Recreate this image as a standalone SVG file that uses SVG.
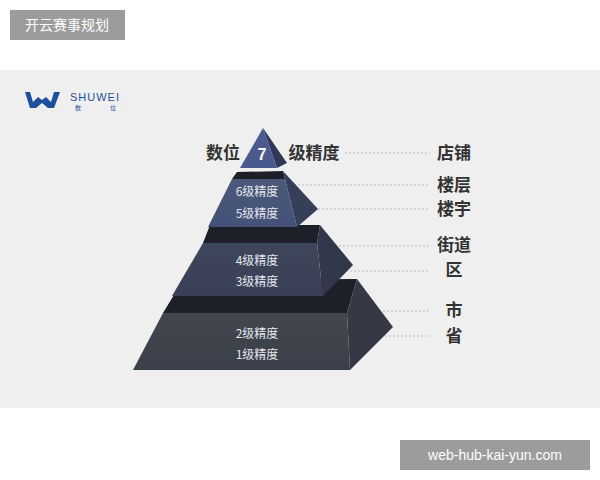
<svg xmlns="http://www.w3.org/2000/svg" width="600" height="480" viewBox="0 0 600 480">
<style>
.lv{font-family:"Noto Sans CJK SC","Liberation Sans",sans-serif;font-size:12px;fill:#e4e6ec;text-anchor:middle}
.rl{font-family:"Noto Sans CJK SC",sans-serif;font-size:17px;font-weight:bold;fill:#333;text-anchor:middle}
.dl{stroke:#bbb;stroke-width:1;stroke-dasharray:2 2;fill:none}
.top{fill:#1e2029}
</style>
<defs>
<linearGradient id="g2" x1="0" y1="0" x2="0" y2="1"><stop offset="0" stop-color="#4a5878"/><stop offset="1" stop-color="#44527a"/></linearGradient>
<linearGradient id="g3" x1="0" y1="0" x2="0" y2="1"><stop offset="0" stop-color="#3e465c"/><stop offset="1" stop-color="#3a4156"/></linearGradient>
<linearGradient id="g4" x1="0" y1="0" x2="0" y2="1"><stop offset="0" stop-color="#41464f"/><stop offset="1" stop-color="#3b3f49"/></linearGradient>
</defs>
<rect width="600" height="480" fill="#fff"/>
<rect x="0" y="70" width="600" height="338" fill="#efefef"/>
<g id="header"><rect x="10" y="10" width="115" height="30" fill="#9c9c9c"/><text x="67" y="30" font-family="Noto Sans CJK SC,sans-serif" font-size="14" fill="#fff" text-anchor="middle">开云赛事规划</text></g>
<g id="footer"><rect x="400" y="440" width="190" height="30" fill="#9c9c9c"/><text x="495" y="460" font-family="Liberation Sans,sans-serif" font-size="14" fill="#fff" text-anchor="middle">web-hub-kai-yun.com</text></g>
<g id="logo">
<path d="M25 92 L30 92 L33 102 L38 97 L42 100 L46 97 L51 102 L54 92 L60 92 L54 108 L48 108 L42 103 L36 108 L30 108 Z" fill="#1d4f9e"/>
<text x="70" y="101" font-family="Liberation Sans,sans-serif" font-size="11" fill="#1d4f9e" letter-spacing="1">SHUWEI</text>
<text x="75" y="110" font-family="Noto Sans CJK SC,sans-serif" font-size="6" fill="#1d4f9e">数</text>
<text x="110" y="110" font-family="Noto Sans CJK SC,sans-serif" font-size="6" fill="#1d4f9e">位</text>
</g>
<g id="connectors">
<path class="dl" d="M345 153H430M294 185H430M306 209H430M331 246H430M338 271H430M351 311H430M373 336H430"/>
</g>
<g id="tier4">
<polygon class="top" points="183,280 357,279 347,313 163,313"/>
<polygon fill="#353945" points="357,279 393,327 350,370 347,313"/>
<polygon fill="url(#g4)" points="163,313 347,313 350,370 133,370"/>
<text class="lv" x="257" y="338">2级精度</text><text class="lv" x="257" y="359">1级精度</text>
</g>
<g id="tier3">
<polygon class="top" points="210,225 320,225 317,243 203,243"/>
<polygon fill="#323849" points="320,225 353,265 323,296 317,243"/>
<polygon fill="url(#g3)" points="203,243 317,243 323,296 172,296"/>
<text class="lv" x="257" y="265">4级精度</text><text class="lv" x="257" y="286">3级精度</text>
</g>
<g id="tier2">
<polygon class="top" points="237,172 283,171 285,179 232,179"/>
<polygon fill="#363f58" points="283,171 318,209 297,227 285,179"/>
<polygon fill="url(#g2)" points="232,179 285,179 297,227 208,227"/>
<text class="lv" x="257" y="196">6级精度</text><text class="lv" x="257" y="218">5级精度</text>
</g>
<g id="tier1">
<polygon fill="#2f3856" points="263,128 287,163 277,168"/>
<polygon fill="#4b5a8e" points="263,128 277,168 240,168"/>
<text x="262" y="160" font-family="Liberation Sans,sans-serif" font-size="16" font-weight="bold" fill="#fff" text-anchor="middle">7</text>
<text x="223" y="159" class="rl" font-size="16">数位</text>
<text x="314" y="159" class="rl" font-size="16">级精度</text>
</g>
<g id="labels">
<text class="rl" x="454" y="159">店铺</text>
<text class="rl" x="454" y="191">楼层</text>
<text class="rl" x="454" y="215">楼宇</text>
<text class="rl" x="454" y="251">街道</text>
<text class="rl" x="454" y="276">区</text>
<text class="rl" x="454" y="316">市</text>
<text class="rl" x="454" y="342">省</text>
</g>
</svg>
